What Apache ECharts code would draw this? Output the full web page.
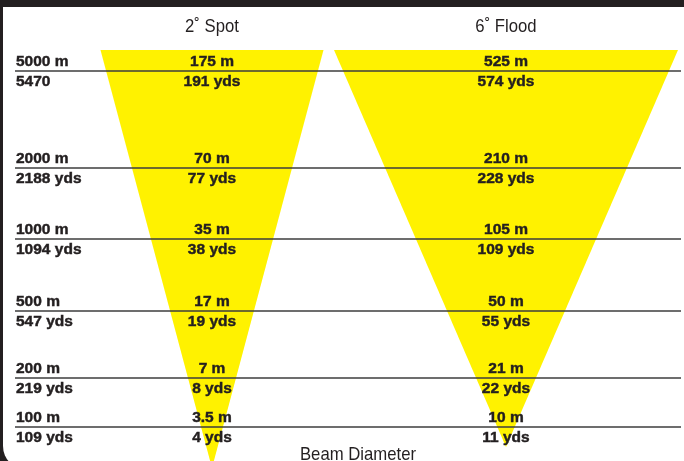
<!DOCTYPE html>
<html><head><meta charset="utf-8">
<script src="https://cdn.jsdelivr.net/npm/echarts@6/dist/echarts.min.js"></script>
<style>
html,body{margin:0;padding:0;width:684px;height:461px;overflow:hidden;background:#231f20;}
#frame{position:absolute;left:3px;top:7px;width:681px;height:463px;background:#fff;border-bottom-left-radius:24px;}
#chart{position:absolute;left:0;top:0;width:684px;height:461px;}
</style></head><body>
<div id="frame"></div><div id="chart"></div>
<script>
// ---- data ----
const beamNames = ['2\u02DA Spot', '6\u02DA Flood'];
const distanceM = [5000, 2000, 1000, 500, 200, 100];
const distanceYdsLabels = ['5470', '2188 yds', '1094 yds', '547 yds', '219 yds', '109 yds'];
const spotM = [175, 70, 35, 17, 7, 3.5];
const spotYds = [191, 77, 38, 19, 8, 4];
const floodM = [525, 210, 105, 50, 21, 10];
const floodYds = [574, 228, 109, 55, 22, 11];
const xAxisTitle = 'Beam Diameter';

// ---- layout (schematic, page px) ----
const layout = {
  rowY: [71, 168, 239, 311, 378, 427],
  lineX: [15, 681],
  labelX: 16,
  beamCenterX: [212, 506],
  beamTopY: 50,
  beamTopHalf: [111.5, 172],
  beamApexY: [468, 447],
  titleY: 27,
  axisTitle: [358, 455],
  upperDy: -9,
  lowerDy: 10.5
};
const TXT = '#231f20';
const YELLOW = '#fff200';
const boldFont = { fontSize: 15.5, fontWeight: 'bold', fontFamily: 'Liberation Sans, Arial, sans-serif', stroke: TXT, lineWidth: 0.45 };
const titleFont = { fontSize: 19, fontWeight: 'normal', fontFamily: 'Liberation Sans, Arial, sans-serif' };
const TITLE_SCALE = 0.88;

const beamSeries = [spotM, floodM];
const beamYdsSeries = [spotYds, floodYds];

const chart = echarts.init(document.getElementById('chart'), null, { renderer: 'canvas' });
chart.setOption({
  animation: false,
  backgroundColor: 'transparent',
  grid: { left: 0, right: 0, top: 0, bottom: 0 },
  xAxis: { type: 'value', min: 0, max: 684, show: false },
  yAxis: { type: 'value', min: 0, max: 461, inverse: true, show: false },
  series: [
    {
      type: 'custom', z: 1, clip: false,
      data: beamNames.map((n, i) => [i]),
      renderItem: function (params, api) {
        const i = params.dataIndex;
        const cx = layout.beamCenterX[i], h = layout.beamTopHalf[i];
        const pts = [
          api.coord([cx - h, layout.beamTopY]),
          api.coord([cx + h, layout.beamTopY]),
          api.coord([cx, layout.beamApexY[i]])
        ];
        const t = api.coord([cx, layout.titleY]);
        return {
          type: 'group',
          children: [
            { type: 'polygon', shape: { points: pts }, style: { fill: YELLOW } },
            { type: 'text', x: t[0], y: t[1], scaleX: TITLE_SCALE, style: Object.assign({ text: beamNames[i], fill: TXT, align: 'center', verticalAlign: 'middle' }, titleFont) }
          ]
        };
      }
    },
    {
      type: 'custom', z: 2, clip: false,
      data: distanceM.map((d, i) => [i]),
      renderItem: function (params, api) {
        const i = params.dataIndex;
        const a = api.coord([layout.lineX[0], layout.rowY[i]]);
        const b = api.coord([layout.lineX[1], layout.rowY[i]]);
        return { type: 'line', shape: { x1: a[0], y1: a[1], x2: b[0], y2: b[1] }, style: { stroke: '#3d3d3d', lineWidth: 1.6 } };
      }
    },
    {
      type: 'custom', z: 3, clip: false,
      data: distanceM.map((d, i) => [i]),
      renderItem: function (params, api) {
        const i = params.dataIndex;
        const y = layout.rowY[i];
        const children = [];
        const mk = (x, yy, text, align) => {
          const p = api.coord([x, yy]);
          children.push({ type: 'text', x: p[0], y: p[1], style: Object.assign({ text: text, fill: TXT, align: align, verticalAlign: 'middle' }, boldFont) });
        };
        mk(layout.labelX, y + layout.upperDy, distanceM[i] + ' m', 'left');
        mk(layout.labelX, y + layout.lowerDy, distanceYdsLabels[i], 'left');
        for (let b = 0; b < 2; b++) {
          mk(layout.beamCenterX[b], y + layout.upperDy, beamSeries[b][i] + ' m', 'center');
          mk(layout.beamCenterX[b], y + layout.lowerDy, beamYdsSeries[b][i] + ' yds', 'center');
        }
        return { type: 'group', children: children };
      }
    }
  ],
  graphic: [
    { type: 'text', x: layout.axisTitle[0], y: layout.axisTitle[1], z: 10, scaleX: TITLE_SCALE,
      style: Object.assign({ text: xAxisTitle, fill: TXT, align: 'center', verticalAlign: 'middle' }, titleFont) }
  ]
});
</script>
</body></html>
